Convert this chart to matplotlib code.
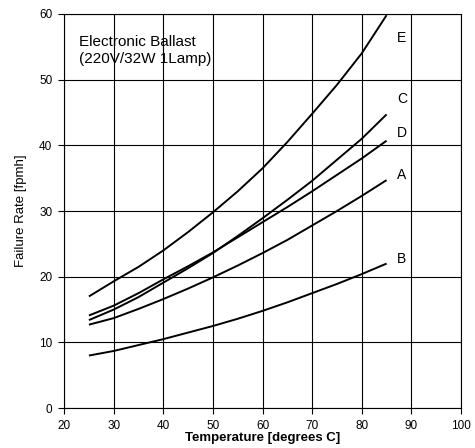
import matplotlib
matplotlib.use("Agg")
import matplotlib.pyplot as plt

plt.rcParams['font.family'] = ['Liberation Sans', 'DejaVu Sans']

# Temperatura [graus C]
temps = [25, 30, 35, 40, 45, 50, 55, 60, 65, 70, 75, 80, 85]

# Curvas (fpmh)
curve_e = [17.0, 19.3, 21.5, 24.0, 26.8, 29.8, 33.0, 36.5, 40.5, 44.8, 49.2, 54.0, 59.8]
curve_c = [13.4, 15.0, 16.9, 19.1, 21.3, 23.6, 26.2, 28.9, 31.7, 34.6, 37.8, 41.0, 44.7]
curve_d = [14.1, 15.6, 17.5, 19.6, 21.6, 23.7, 26.0, 28.3, 30.6, 33.0, 35.5, 38.0, 40.7]
curve_a = [12.7, 13.7, 15.1, 16.6, 18.2, 19.9, 21.7, 23.6, 25.6, 27.8, 30.0, 32.3, 34.7]
curve_b = [8.0, 8.7, 9.6, 10.5, 11.5, 12.5, 13.6, 14.8, 16.1, 17.5, 18.9, 20.4, 22.0]

labels = ['E', 'C', 'D', 'A', 'B']
label_y = [56.3, 47.0, 41.9, 35.5, 22.7]

fig = plt.figure(figsize=(4.75, 4.48), dpi=100)
ax = fig.add_axes([0.135, 0.089, 0.8355, 0.88])

for y in [curve_e, curve_c, curve_d, curve_a, curve_b]:
    ax.plot(temps, y, color='black', lw=1.4, solid_capstyle='butt')

for lab, ly in zip(labels, label_y):
    ax.text(88.1, ly, lab, fontsize=10, ha='center', va='center')

# caixa de texto no canto superior esquerdo
ax.text(23.0, 52.6, 'Electronic Ballast\n(220V/32W 1Lamp)', fontsize=11,
        ha='left', va='baseline', linespacing=1.2)

ax.set_xlim(20, 100)
ax.set_ylim(0, 60)
ax.set_xticks(range(20, 101, 10))
ax.set_yticks(range(0, 61, 10))
ax.grid(True, color='black', lw=0.8)
for s in ax.spines.values():
    s.set_color('black')
    s.set_linewidth(0.8)
ax.tick_params(direction='out', length=4, width=0.8, labelsize=8.5, pad=4.5)

ax.set_xlabel('Temperature [degrees C]', fontsize=9.5, fontweight='bold', labelpad=0)
ax.set_ylabel('Failure Rate [fpmh]', fontsize=9.5, labelpad=9)

fig.savefig('out.png', dpi=100)
